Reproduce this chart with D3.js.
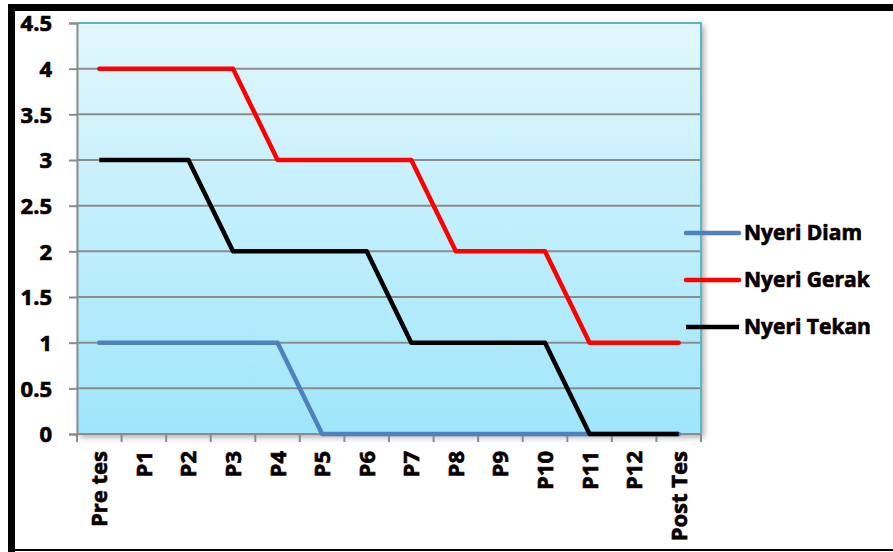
<!DOCTYPE html>
<html>
<head>
<meta charset="utf-8">
<script src="https://cdn.jsdelivr.net/npm/d3@7"></script>
<style>
  html, body { margin: 0; padding: 0; background: #fff; }
  svg text { font-family: "Open Sans", "DejaVu Sans", sans-serif; font-weight: 700; fill: #000;
             stroke: #3a0000; stroke-width: 0.7px; paint-order: stroke; }
</style>
</head>
<body>
<svg id="chart" width="893" height="552"></svg>
<script>
// Pain scores per session
const categories = ["Pre tes", "P1", "P2", "P3", "P4", "P5", "P6", "P7", "P8", "P9", "P10", "P11", "P12", "Post Tes"];
const nyeriDiam  = [1, 1, 1, 1, 1, 0, 0, 0, 0, 0, 0, 0, 0, 0];
const nyeriGerak = [4, 4, 4, 4, 3, 3, 3, 3, 2, 2, 2, 1, 1, 1];
const nyeriTekan = [3, 3, 3, 2, 2, 2, 2, 1, 1, 1, 1, 0, 0, 0];
const yTicks = [0, 0.5, 1, 1.5, 2, 2.5, 3, 3.5, 4, 4.5];

const seriesNames  = ["Nyeri Diam", "Nyeri Gerak", "Nyeri Tekan"];
const seriesColors = ["#4f81bd", "#ff0000", "#000000"];
const series = [nyeriDiam, nyeriGerak, nyeriTekan].map((values, i) => ({
  name: seriesNames[i], color: seriesColors[i], values
}));

const svg = d3.select("#chart");
const plot = { left: 77, right: 701, top: 23, bottom: 434 };

const x = d3.scaleBand().domain(categories).range([plot.left, plot.right]).padding(0);
const y = d3.scaleLinear().domain([0, 4.5]).range([plot.bottom, plot.top]);

const defs = svg.append("defs");
const grad = defs.append("linearGradient").attr("id", "bg").attr("x1", 0).attr("y1", 0).attr("x2", 0).attr("y2", 1);
grad.append("stop").attr("offset", "0%").attr("stop-color", "#e2f7fd");
grad.append("stop").attr("offset", "100%").attr("stop-color", "#9fe6fb");
const shadow = defs.append("filter").attr("id", "shadow").attr("x", "-5%").attr("y", "-5%").attr("width", "115%").attr("height", "115%");
shadow.append("feGaussianBlur").attr("in", "SourceAlpha").attr("stdDeviation", 3);
shadow.append("feOffset").attr("dx", 3).attr("dy", 3).attr("result", "b");
shadow.append("feComponentTransfer").append("feFuncA").attr("type", "linear").attr("slope", 0.35);
const merge = shadow.append("feMerge");
merge.append("feMergeNode");
merge.append("feMergeNode").attr("in", "SourceGraphic");

// Outer frame
svg.append("rect").attr("x", 8).attr("y", 4).attr("width", 893).attr("height", 7).attr("fill", "#000");
svg.append("rect").attr("x", 8).attr("y", 4).attr("width", 7).attr("height", 548).attr("fill", "#000");
svg.append("rect").attr("x", 8).attr("y", 549).attr("width", 893).attr("height", 2).attr("fill", "#000");

// Plot area background
svg.append("rect")
  .attr("x", plot.left).attr("y", plot.top)
  .attr("width", plot.right - plot.left).attr("height", plot.bottom - plot.top)
  .attr("fill", "url(#bg)").attr("filter", "url(#shadow)");

// Gridlines
svg.append("g").selectAll("line").data(yTicks.filter(d => d > 0)).join("line")
  .attr("x1", plot.left).attr("x2", plot.right)
  .attr("y1", d => y(d)).attr("y2", d => y(d))
  .attr("stroke", "#8c8c8c").attr("stroke-width", 2);

// Plot border (top/right)
svg.append("path")
  .attr("d", `M${plot.left},${plot.top}H${plot.right}V${plot.bottom}`)
  .attr("fill", "none").attr("stroke", "#5bb6cc").attr("stroke-width", 2);

// Y axis
const yAxis = svg.append("g").attr("transform", `translate(${plot.left},0)`)
  .call(d3.axisLeft(y).tickValues(yTicks).tickSize(8).tickPadding(17).tickFormat(d => String(d)));
yAxis.select(".domain").attr("stroke", "#8c8c8c").attr("stroke-width", 2);
yAxis.selectAll(".tick line").attr("stroke", "#8c8c8c").attr("stroke-width", 2);
yAxis.selectAll(".tick text").attr("font-size", 22).attr("dy", "0.35em")
  .style("font-family", "'Open Sans', sans-serif").style("font-weight", 700).attr("fill", "#000");

// X axis: ticks at band boundaries
const boundaries = categories.map(c => x(c)).concat([plot.right]);
svg.append("g").selectAll("line").data(boundaries).join("line")
  .attr("x1", d => d).attr("x2", d => d)
  .attr("y1", plot.bottom).attr("y2", plot.bottom + 8)
  .attr("stroke", "#8c8c8c").attr("stroke-width", 2);
svg.append("line")
  .attr("x1", plot.left).attr("x2", plot.right)
  .attr("y1", plot.bottom).attr("y2", plot.bottom)
  .attr("stroke", "#8c8c8c").attr("stroke-width", 2);

svg.append("g").selectAll("text").data(categories).join("text")
  .attr("transform", d => `translate(${x(d) + x.bandwidth() / 2 + 8},451) rotate(-90)`)
  .attr("text-anchor", "end")
  .attr("font-size", 22)
  .text(d => d);

// Series lines
const line = d3.line()
  .x((d, i) => x(categories[i]) + x.bandwidth() / 2)
  .y(d => y(d));
svg.append("g").selectAll("path").data(series).join("path")
  .attr("d", s => line(s.values))
  .attr("fill", "none")
  .attr("stroke", s => s.color)
  .attr("stroke-width", 4.5)
  .attr("stroke-linejoin", "round")
  .attr("stroke-linecap", (s, i) => i === 2 ? "butt" : "round");

// Legend
const legend = svg.append("g").selectAll("g").data(series).join("g")
  .attr("transform", (s, i) => `translate(686,${233 + i * 47})`);
legend.append("line")
  .attr("x1", 0).attr("x2", 53)
  .attr("stroke", s => s.color).attr("stroke-width", 4.5)
  .attr("stroke-linecap", (s, i) => i === 2 ? "butt" : "round");
legend.append("text")
  .attr("x", 58).attr("dy", "0.35em")
  .attr("font-size", 21)
  .text(s => s.name);
</script>
</body>
</html>
